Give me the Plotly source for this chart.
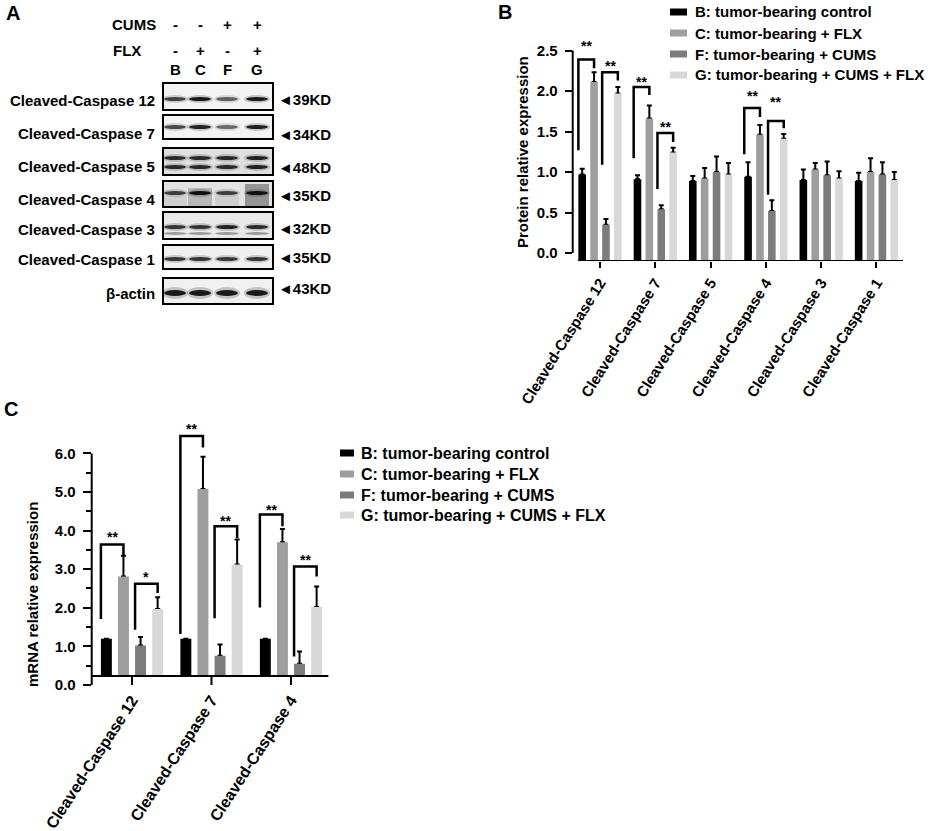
import plotly.graph_objects as go

W, H = 941, 831
FONT = "Arial, Liberation Sans, sans-serif"

# ---- data ----
groups = ["B", "C", "F", "G"]
group_names = ["B: tumor-bearing control", "C: tumor-bearing + FLX",
               "F: tumor-bearing + CUMS", "G: tumor-bearing + CUMS + FLX"]
group_colors = ["#000000", "#9e9e9e", "#7c7c7c", "#d8d8d8"]

# panel B: protein relative expression
prot_cats = ["Cleaved-Caspase 12", "Cleaved-Caspase 7", "Cleaved-Caspase 5",
             "Cleaved-Caspase 4", "Cleaved-Caspase 3", "Cleaved-Caspase 1"]
prot_B = [0.97, 0.91, 0.89, 0.94, 0.90, 0.89]
prot_C = [2.11, 1.66, 0.92, 1.46, 1.03, 1.00]
prot_F = [0.35, 0.54, 1.00, 0.52, 0.96, 0.97]
prot_G = [1.97, 1.24, 0.97, 1.41, 0.92, 0.90]
prot_B_err = [0.07, 0.05, 0.06, 0.18, 0.13, 0.10]
prot_C_err = [0.12, 0.16, 0.13, 0.12, 0.08, 0.17]
prot_F_err = [0.07, 0.05, 0.19, 0.13, 0.17, 0.15]
prot_G_err = [0.08, 0.06, 0.14, 0.06, 0.09, 0.10]

# panel C: mRNA relative expression
mrna_cats = ["Cleaved-Caspase 12", "Cleaved-Caspase 7", "Cleaved-Caspase 4"]
mrna_B = [1.20, 1.20, 1.20]
mrna_C = [2.81, 5.08, 3.70]
mrna_F = [1.02, 0.76, 0.55]
mrna_G = [1.97, 3.12, 2.02]
mrna_B_err = [0.0, 0.0, 0.0]
mrna_C_err = [0.54, 0.83, 0.34]
mrna_F_err = [0.22, 0.29, 0.32]
mrna_G_err = [0.30, 0.65, 0.53]

# significance brackets: (category, group a, group b, left foot, top, right foot, label, label y)
prot_sig = [
    (0, 0, 1, 1.27, 2.39, 2.28, "**", 2.60),
    (0, 2, 3, 1.09, 2.23, 2.13, "**", 2.36),
    (1, 0, 1, 1.17, 2.05, 1.95, "**", 2.16),
    (1, 2, 3, 0.79, 1.48, 1.37, "**", 1.60),
    (3, 0, 1, 1.22, 1.79, 1.68, "**", 1.99),
    (3, 2, 3, 0.72, 1.63, 1.54, "**", 1.91),
]
mrna_sig = [
    (0, 0, 1, 1.71, 3.64, 3.35, "**", 3.94),
    (0, 2, 3, 1.43, 2.62, 2.38, "*", 2.90),
    (1, 0, 1, 1.32, 6.45, 6.15, "**", 6.74),
    (1, 2, 3, 1.73, 4.11, 3.81, "**", 4.36),
    (2, 0, 1, 2.01, 4.42, 4.11, "**", 4.63),
    (2, 2, 3, 0.74, 3.07, 2.81, "**", 3.35),
]

# panel A: western blot
blot_rows = ["Cleaved-Caspase 12", "Cleaved-Caspase 7", "Cleaved-Caspase 5",
             "Cleaved-Caspase 4", "Cleaved-Caspase 3", "Cleaved-Caspase 1", "β-actin"]
blot_kd = ["39KD", "34KD", "48KD", "35KD", "32KD", "35KD", "43KD"]
band_intensity = [[0.75, 0.95, 0.6, 0.95], [0.7, 0.9, 0.55, 0.92],
                  [0.85, 0.85, 0.85, 0.9], [0.75, 1.0, 0.75, 1.0],
                  [0.8, 0.8, 0.9, 0.85], [0.8, 0.8, 0.8, 0.8],
                  [0.95, 0.95, 0.95, 0.95]]
cums_sign = ["-", "-", "+", "+"]
flx_sign = ["-", "+", "-", "+"]


def px(x):
    return x / W


def py(y):
    return 1 - y / H


def label(x, y, text, size=15, xanchor="center", **kw):
    return dict(x=px(x), y=py(y), xref="paper", yref="paper", text=text,
                showarrow=False, xanchor=xanchor, yanchor="middle",
                font=dict(family=FONT, size=size, color="black", weight="bold"), **kw)


BAR_GAP, GROUP_GAP = 0.14, 0.36
slot = (1 - BAR_GAP) / len(groups)
bar_w = slot * (1 - GROUP_GAP)


def bar_center(cat, g):
    return cat + (g - (len(groups) - 1) / 2) * slot


fig = go.Figure()

panels = [
    (prot_cats, [prot_B, prot_C, prot_F, prot_G],
     [prot_B_err, prot_C_err, prot_F_err, prot_G_err], -0.1, "x", "y"),
    (mrna_cats, [mrna_B, mrna_C, mrna_F, mrna_G],
     [mrna_B_err, mrna_C_err, mrna_F_err, mrna_G_err], 0.233, "x2", "y2"),
]

for cats, series, errs, base, xa, ya in panels:
    # error bars first so the bars hide the lower cap
    for g, vals in enumerate(series):
        fig.add_trace(go.Bar(
            x=cats, y=[v - base for v in vals], base=base, offsetgroup=groups[g],
            marker=dict(color="rgba(0,0,0,0)", line_width=0),
            error_y=dict(type="data", array=errs[g], arrayminus=[0] * len(vals),
                         symmetric=False, color="black", thickness=2, width=2.5),
            showlegend=False, hoverinfo="skip", xaxis=xa, yaxis=ya))
    for g, vals in enumerate(series):
        fig.add_trace(go.Bar(
            x=cats, y=[v - base for v in vals], base=base, offsetgroup=groups[g],
            marker=dict(color=group_colors[g], line_width=0), name=group_names[g],
            customdata=vals, hovertemplate="%{x}<br>%{customdata:.2f}<extra></extra>",
            showlegend=False, xaxis=xa, yaxis=ya))

shapes = []
annotations = []

# brackets
for sig, xr, yr in [(prot_sig, "x", "y"), (mrna_sig, "x2", "y2")]:
    for cat, a, b, yl, yt, yrr, lab, ly in sig:
        xl = bar_center(cat, a) - bar_w / 2
        xrt = bar_center(cat, b)
        shapes.append(dict(type="path", xref=xr, yref=yr,
                           path=f"M{xl},{yl} L{xl},{yt} L{xrt},{yt} L{xrt},{yrr}",
                           line=dict(color="black", width=2.5)))
        annotations.append(dict(x=(xl + xrt) / 2, y=ly, xref=xr, yref=yr, text=lab,
                                showarrow=False, yshift=-4,
                                xanchor="center", yanchor="middle",
                                font=dict(family=FONT, size=14, color="black", weight="bold")))

# panel B axis lines (offset style)
shapes.append(dict(type="line", xref="x domain", yref="y", x0=0, x1=0, y0=0, y1=2.5,
                   line=dict(color="black", width=2)))
shapes.append(dict(type="line", xref="x", yref="y", x0=-0.4, x1=5.485, y0=-0.1, y1=-0.1,
                   line=dict(color="black", width=2)))
# panel C axis lines and x ticks
shapes.append(dict(type="line", xref="x2 domain", yref="y2", x0=0, x1=0, y0=0, y1=6.0,
                   line=dict(color="black", width=2)))
shapes.append(dict(type="line", xref="x2", yref="y2", x0=-0.507, x1=2.473, y0=0.233, y1=0.233,
                   line=dict(color="black", width=2)))
for i in range(len(mrna_cats)):
    shapes.append(dict(type="line", xref="x2", yref="y2", x0=i, x1=i, y0=0.233, y1=0.0,
                       line=dict(color="black", width=2)))

# legends
for rows_y, sx0, sx1, tx, fs in [([12, 33, 54, 75], 670, 687, 693, 15),
                                 ([453, 474, 495, 515], 340, 354, 359, 16)]:
    for g in range(len(groups)):
        yy = rows_y[g]
        shapes.append(dict(type="rect", xref="paper", yref="paper",
                           x0=px(sx0), x1=px(sx1), y0=py(yy + 3.5), y1=py(yy - 3.5),
                           fillcolor=group_colors[g], line_width=0))
        annotations.append(label(tx, yy, group_names[g], size=fs, xanchor="left"))

# axis titles and panel letters
annotations.append(label(523, 152, "Protein relative expression", textangle=-90))
annotations.append(label(32, 595, "mRNA relative expression", textangle=-90))
for letter, lx, ly in [("A", 13, 13), ("B", 505, 12), ("C", 11, 409)]:
    annotations.append(label(lx, ly, letter, size=20))

# ---- panel A: blot drawing ----
lane_x = [175, 200, 227, 257]
box_x0, box_x1 = 163, 273
box_y = [(83, 110), (115, 139), (148, 175), (181, 207), (212, 239), (245, 269), (278, 304)]
band_y = [[99], [127], [158, 167], [193], [227], [259], [293]]
label_y = [100, 133, 166, 199, 230, 260, 293]
kd_y = [99, 135, 167, 195, 228, 257, 288]
row_bg = ["#f3f3f3", "#f3f3f3", "#e0e0e0", "#e2e2e2", "#e9e9e9", "#f0f0f0", "#f1f1f1"]

for r, (y0, y1) in enumerate(box_y):
    shapes.append(dict(type="rect", xref="paper", yref="paper",
                       x0=px(box_x0), x1=px(box_x1), y0=py(y1), y1=py(y0),
                       fillcolor=row_bg[r], line_width=0, layer="above"))
    # smear in the caspase 4 lanes
    if r == 3:
        for lane, op, top in [(0, 0.12, 196), (1, 0.3, 188), (2, 0.12, 196), (3, 0.55, 184)]:
            shapes.append(dict(type="rect", xref="paper", yref="paper",
                               x0=px(lane_x[lane] - 12), x1=px(lane_x[lane] + 12),
                               y0=py(y1 - 1), y1=py(top), fillcolor="#555555",
                               opacity=op, line_width=0, layer="above"))
    for by in band_y[r]:
        bh = 6 if r == 6 else 4
        for lane in range(4):
            k = band_intensity[r][lane]
            shapes.append(dict(type="circle", xref="paper", yref="paper",
                               x0=px(lane_x[lane] - 13), x1=px(lane_x[lane] + 13),
                               y0=py(by + bh), y1=py(by - bh), fillcolor="#333333",
                               opacity=0.25 * k, line_width=0, layer="above"))
            shapes.append(dict(type="circle", xref="paper", yref="paper",
                               x0=px(lane_x[lane] - 11), x1=px(lane_x[lane] + 11),
                               y0=py(by + bh / 2), y1=py(by - bh / 2), fillcolor="#111111",
                               opacity=k, line_width=0, layer="above"))
    if r == 4:
        for lane in range(4):
            shapes.append(dict(type="circle", xref="paper", yref="paper",
                               x0=px(lane_x[lane] - 12), x1=px(lane_x[lane] + 12),
                               y0=py(235), y1=py(232), fillcolor="#222222",
                               opacity=0.4, line_width=0, layer="above"))
    shapes.append(dict(type="rect", xref="paper", yref="paper",
                       x0=px(box_x0), x1=px(box_x1), y0=py(y1), y1=py(y0),
                       line=dict(color="black", width=2), layer="above"))
    annotations.append(label(157, label_y[r], blot_rows[r], xanchor="right"))
    annotations.append(label(276, kd_y[r], "◄" + blot_kd[r], xanchor="left"))

annotations.append(label(110, 25, "CUMS", xanchor="left"))
annotations.append(label(111, 50, "FLX", xanchor="left"))
for lane in range(4):
    for txt, yy in [(cums_sign[lane], 25), (flx_sign[lane], 50), (groups[lane], 70)]:
        annotations.append(label(lane_x[lane], yy, txt))

axis_font = dict(family=FONT, size=15, color="black", weight="bold")

fig.update_layout(
    width=W, height=H, margin=dict(l=0, r=0, t=0, b=0, autoexpand=False),
    paper_bgcolor="white", plot_bgcolor="white",
    barmode="group", bargap=BAR_GAP, bargroupgap=GROUP_GAP,
    showlegend=False, shapes=shapes, annotations=annotations,
    xaxis=dict(domain=[px(572.7), px(903.3)], range=[-0.494, 5.485], anchor="y",
               automargin=False,
               showline=False, showgrid=False, zeroline=False,
               ticks="outside", ticklen=6, tickwidth=2, tickcolor="black",
               tickangle=-58, tickfont=axis_font),
    yaxis=dict(domain=[py(261.1), py(30.25)], range=[-0.1, 2.75], anchor="x",
               automargin=False,
               showline=False, showgrid=False, zeroline=False,
               tickvals=[0, 0.5, 1.0, 1.5, 2.0, 2.5], tickformat=".1f",
               ticks="outside", ticklen=7, tickwidth=2, tickcolor="black",
               ticklabelstandoff=4, tickfont=axis_font),
    xaxis2=dict(domain=[px(91.7), px(328.6)], range=[-0.507, 2.473], anchor="y2",
                automargin=False,
                showline=False, showgrid=False, zeroline=False, ticks="",
                tickangle=-57, tickfont=dict(family=FONT, size=16, color="black", weight="bold")),
    yaxis2=dict(domain=[py(686.9), py(414.8)], range=[-0.05, 7.0], anchor="x2",
                automargin=False,
                showline=False, showgrid=False, zeroline=False,
                tickvals=[0, 1, 2, 3, 4, 5, 6], tickformat=".1f",
                ticks="outside", ticklen=8, tickwidth=2, tickcolor="black",
                ticklabelstandoff=4, tickfont=axis_font,
                minor=dict(tickvals=[0.5, 1.5, 2.5, 3.5, 4.5, 5.5], ticks="outside",
                           ticklen=5, tickwidth=2, tickcolor="black")),
)

fig.write_html("out.html", config={"displayModeBar": False},
               post_script="document.body.style.margin='0';")
